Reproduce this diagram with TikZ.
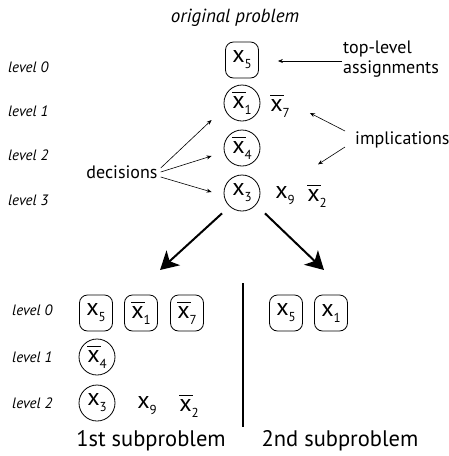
\documentclass[tikz,border=0pt]{standalone}
\usepackage{fontspec}
\setmainfont{PT Sans}
\usetikzlibrary{arrows.meta,calc}
\newcommand\xs[1]{x\raisebox{-0.5ex}{\fontsize{13}{14}\selectfont #1}}
\newcommand\xbs[1]{\leavevmode\rlap{\raisebox{1.25ex}{\rule{0.58em}{0.075em}}}x\raisebox{-0.5ex}{\fontsize{13}{14}\selectfont #1}}
\begin{document}
\begin{tikzpicture}[x=1pt,y=-1pt,
  var/.style={font=\fontsize{24}{28}\selectfont, inner sep=0pt},
  boxv/.style={var, draw, rounded corners=8pt, minimum width=33pt, minimum height=36pt, line width=0.8pt},
  circv/.style={var, draw, circle, minimum size=36pt, line width=0.8pt},
  lvl/.style={font=\fontsize{15}{17}\selectfont\itshape, anchor=west, inner sep=0pt},
  lab/.style={font=\fontsize{18}{20}\selectfont, inner sep=0pt, align=left},
  thin/.style={-{Stealth[length=5pt,width=4pt]}, line width=0.6pt},
  big/.style={-{Stealth[length=18pt,width=20pt,inset=5pt]}, line width=2pt},
  sub/.style={font=\fontsize{22.5}{26}\selectfont, inner sep=0pt}
]
\useasboundingbox (0,0) rectangle (449,456);
% title
\node[font=\fontsize{19}{21}\selectfont\itshape, inner sep=0pt] (title) at (235,18) {original problem};
% levels top
\node[lvl] (l0) at (8,67) {level 0};
\node[lvl] (l1) at (8,111) {level 1};
\node[lvl] (l2) at (8,155) {level 2};
\node[lvl] (l3) at (8,200) {level 3};
% top stack
\node[boxv] (b5) at (242,60) {\xs{5}};
\node[circv] (c1) at (242,103) {\xbs{1}};
\node[var] (x7) at (280,106) {\xbs{7}};
\node[circv] (c4) at (242,148) {\xbs{4}};
\node[circv] (c3) at (242,193) {\xs{3}};
\node[var] (x9) at (285,196) {\xs{9}};
\node[var] (x2) at (317,196) {\xbs{2}};
% labels
\node[lab, anchor=west] (tl) at (343,59) {top-level\\assignments};
\node[lab, anchor=west] (imp) at (355,140) {implications};
\node[lab] (dec) at (122,172) {decisions};
% thin arrows
\draw[thin] ($(tl.west)+(-1,2)$) -- ($(b5.east)+(19,1)$);
\draw[thin] ($(imp.west)+(-10,-9)$) -- ($(x7.east)+(20,7)$);
\draw[thin] ($(imp.west)+(-10,7)$) -- ($(x2.north)+(1,-20)$);
\draw[thin] ($(dec.east)+(3,-4)$) -- ($(c1.west)+(-12,17)$);
\draw[thin] ($(dec.east)+(3,0)$) -- ($(c4.west)+(-12,8)$);
\draw[thin] ($(dec.east)+(3,5)$) -- ($(c3.west)+(-12,-1)$);
% big arrows
\coordinate (e1) at (160,270);
\coordinate (e2) at (324,270);
\draw[big] ($(c3.south)+(-20,2)$) -- (e1);
\draw[big] ($(c3.south)+(23,2)$) -- (e2);
% bottom left
\node[lvl] (m0) at (12,310) {level 0};
\node[lvl] (m1) at (12,357) {level 1};
\node[lvl] (m2) at (12,403) {level 2};
\node[boxv] (p5) at (96,313) {\xs{5}};
\node[boxv] (p1) at (141,313) {\xbs{1}};
\node[boxv] (p7) at (187,313) {\xbs{7}};
\node[circv] (q4) at (97,357) {\xbs{4}};
\node[circv] (q3) at (97,403) {\xs{3}};
\node[var] (q9) at (147,406) {\xs{9}};
\node[var] (q2) at (189,406) {\xbs{2}};
% bottom right
\node[boxv] (r5) at (286,313) {\xs{5}};
\node[boxv] (r1) at (331,313) {\xs{1}};
% divider
\coordinate (d1) at (243,283);
\coordinate (d2) at (243,427);
\draw[line width=1.2pt] (d1) -- (d2);
% captions
\node[sub] (s1) at (151,441) {1st subproblem};
\node[sub] (s2) at (340,441) {2nd subproblem};
\end{tikzpicture}
\end{document}
